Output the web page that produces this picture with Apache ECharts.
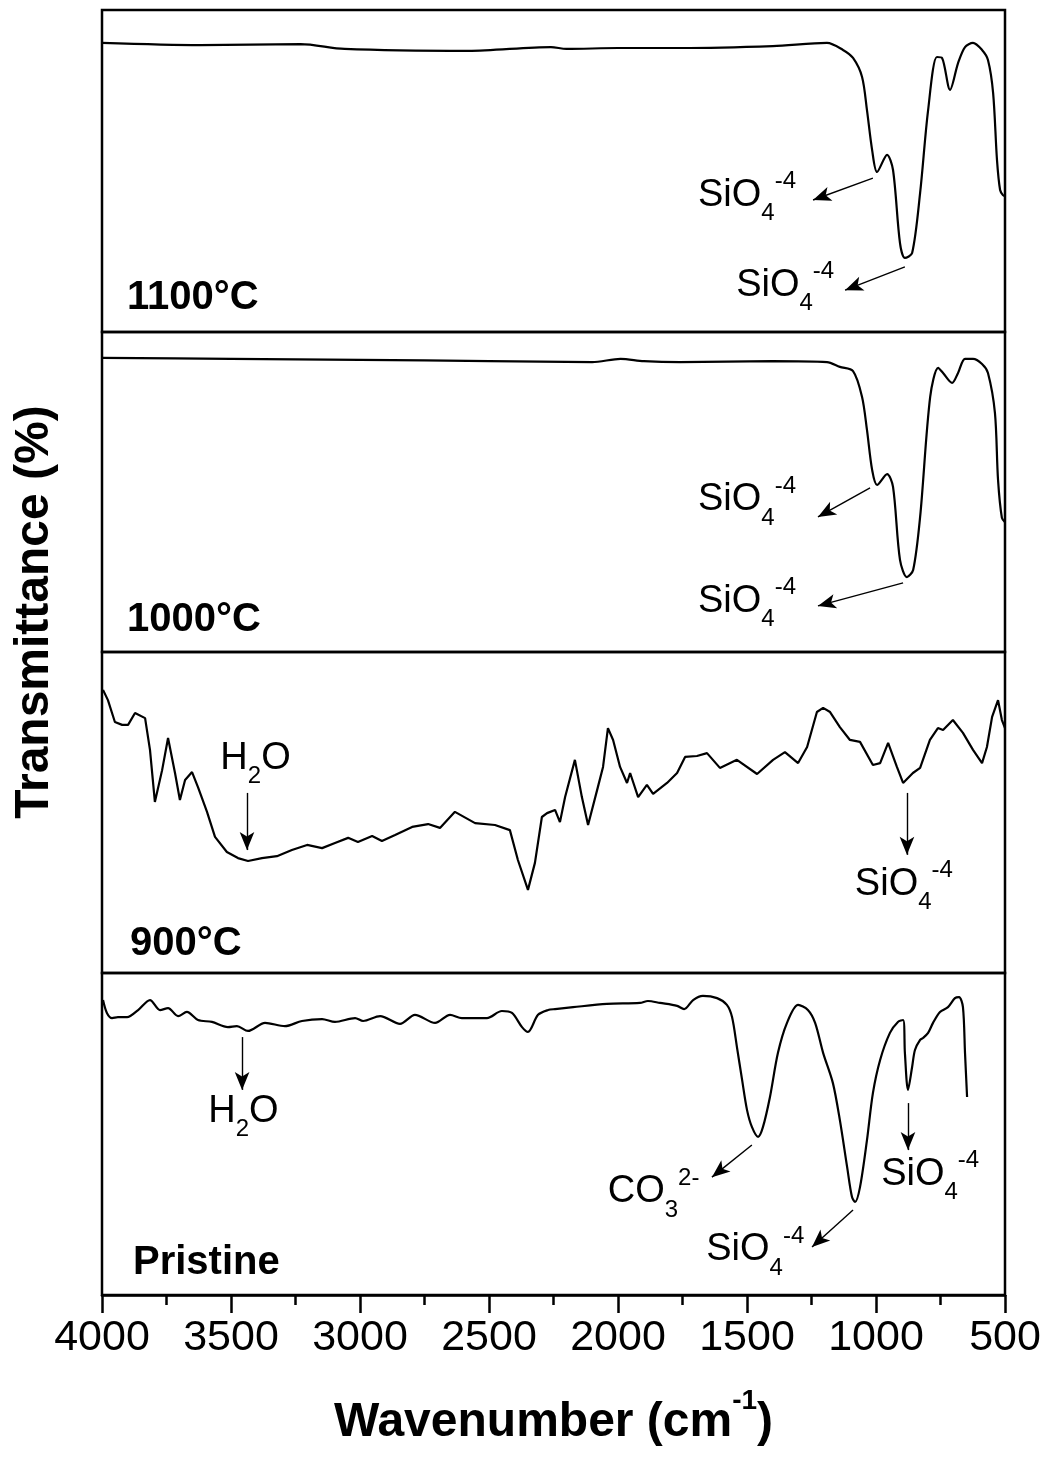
<!DOCTYPE html>
<html>
<head>
<meta charset="utf-8">
<script src="https://cdn.jsdelivr.net/npm/echarts@6/dist/echarts.min.js"></script>
<style>
  html, body { margin: 0; padding: 0; background: #fff; }
  #chart { width: 1050px; height: 1461px; }
</style>
</head>
<body>
<div id="chart"></div>
<script>
// wavenumber (cm-1) and transmittance (arb. %) for each sample
const wn1100 = [4000, 3620, 3230, 3060, 2580, 2260, 2200, 2000, 1760, 1400, 1190, 1128, 1089, 1054, 1035, 1015, 996, 957, 934, 907, 888, 860, 829, 798, 764, 744, 713, 682, 655, 624, 589, 566, 546, 531, 519, 508, 500];
const t1100 = [89.8, 89.1, 89.4, 87.9, 87.3, 88.5, 87.9, 88.2, 88.2, 88.8, 89.8, 87.6, 85.1, 79.2, 68.9, 56.5, 49.7, 55.0, 50.3, 27.6, 23.0, 24.5, 43.2, 68.9, 85.4, 85.1, 75.2, 83.5, 88.5, 89.8, 87.6, 84.5, 74.2, 53.4, 44.1, 42.5, 42.2];

const wn1000 = [4000, 3500, 3000, 2500, 2100, 1990, 1900, 1760, 1400, 1190, 1140, 1089, 1054, 1035, 1015, 996, 957, 934, 907, 880, 856, 829, 790, 759, 740, 705, 682, 655, 624, 589, 566, 539, 527, 512, 500];
const t1000 = [91.9, 91.6, 91.3, 90.9, 90.6, 91.6, 90.9, 90.6, 90.9, 90.6, 89.1, 87.8, 79.7, 69.4, 56.9, 52.2, 55.6, 51.6, 28.8, 23.4, 25.6, 42.2, 79.7, 88.8, 87.2, 84.1, 87.2, 91.6, 91.6, 90.0, 87.2, 74.7, 53.8, 41.9, 40.6];

const wn900 = [3996, 3977, 3950, 3922, 3899, 3872, 3833, 3814, 3795, 3767, 3744, 3717, 3698, 3678, 3651, 3628, 3593, 3562, 3516, 3473, 3434, 3380, 3322, 3264, 3205, 3147, 3097, 3046, 3008, 2953, 2915, 2864, 2798, 2736, 2690, 2632, 2554, 2477, 2419, 2388, 2349, 2322, 2295, 2275, 2244, 2225, 2205, 2167, 2140, 2116, 2078, 2058, 2039, 2019, 1992, 1965, 1953, 1922, 1888, 1864, 1810, 1771, 1740, 1694, 1655, 1605, 1539, 1461, 1399, 1353, 1302, 1267, 1229, 1205, 1178, 1140, 1101, 1062, 1012, 984, 953, 919, 895, 857, 829, 791, 760, 740, 702, 663, 624, 589, 570, 550, 527, 512, 500];
const t900 = [88.2, 85.0, 78.2, 77.3, 77.3, 81.0, 79.4, 69.5, 53.3, 63.2, 73.2, 62.3, 53.9, 60.1, 62.6, 57.9, 50.2, 42.4, 37.7, 35.8, 34.9, 35.8, 36.4, 38.3, 39.9, 38.9, 40.5, 42.1, 40.8, 42.7, 41.1, 43.0, 45.5, 46.4, 45.2, 50.2, 46.7, 46.1, 44.5, 35.2, 25.9, 34.3, 48.6, 49.8, 50.8, 47.0, 54.8, 66.4, 54.8, 46.1, 57.9, 64.2, 76.3, 72.6, 64.2, 59.2, 62.3, 54.8, 58.6, 55.8, 59.2, 62.3, 67.3, 67.6, 68.5, 63.9, 66.4, 62.0, 66.4, 68.8, 65.4, 70.4, 81.3, 82.6, 81.3, 76.6, 72.6, 72.0, 64.8, 65.4, 71.7, 64.2, 59.2, 62.3, 63.9, 72.6, 76.3, 75.7, 78.8, 74.8, 69.5, 65.4, 70.4, 79.8, 85.0, 78.8, 76.3];

const wnPristine = [3996, 3981, 3961, 3938, 3903, 3860, 3814, 3775, 3744, 3705, 3671, 3628, 3574, 3512, 3477, 3434, 3368, 3291, 3225, 3147, 3097, 3019, 2988, 2922, 2845, 2787, 2709, 2651, 2605, 2508, 2450, 2411, 2372, 2349, 2310, 2271, 2244, 2174, 2043, 1915, 1884, 1837, 1771, 1744, 1709, 1671, 1616, 1578, 1558, 1539, 1519, 1500, 1481, 1457, 1438, 1411, 1380, 1345, 1302, 1264, 1236, 1205, 1167, 1140, 1112, 1093, 1081, 1062, 1035, 1012, 984, 946, 915, 895, 888, 876, 860, 849, 829, 818, 798, 779, 752, 721, 694, 678, 663, 655, 647];
const tPristine = [91.6, 87.6, 86.0, 86.3, 86.3, 88.5, 91.6, 88.5, 89.1, 86.6, 87.9, 85.4, 84.8, 83.2, 83.5, 82.0, 84.5, 83.5, 85.1, 85.7, 84.8, 86.0, 85.1, 86.6, 84.2, 87.0, 84.5, 87.0, 86.0, 86.0, 88.2, 87.6, 83.2, 81.7, 87.0, 88.5, 88.8, 89.4, 90.4, 90.7, 91.3, 90.7, 89.8, 88.8, 91.6, 92.9, 92.2, 90.1, 86.3, 77.0, 66.8, 57.5, 52.2, 49.1, 52.2, 61.5, 75.2, 84.5, 90.1, 88.5, 84.5, 75.2, 65.8, 54.3, 39.8, 30.4, 28.9, 33.5, 48.1, 62.7, 73.0, 81.4, 84.8, 85.4, 75.2, 63.7, 70.8, 76.1, 79.2, 79.8, 81.4, 84.5, 87.9, 89.4, 92.2, 92.5, 89.4, 75.2, 61.5];

const xTicks = [4000, 3500, 3000, 2500, 2000, 1500, 1000, 500];
const panelNames = ['1100°C', '1000°C', '900°C', 'Pristine'];

// band assignments: arrows [fromWn, fromT, toWn, toT], notes [wn, t, text]
const SIO = 'SiO{sub|4}{sup|-4}';
const arrows1100 = [[1012, 47.8, 1244, 41.0], [888, 20.2, 1120, 13.0]];
const notes1100 = [[1500, 42.5, SIO], [1352, 14.5, SIO]];
const arrows1000 = [[1023, 51.3, 1225, 42.2], [895, 21.6, 1225, 14.4]];
const notes1000 = [[1500, 47.5, SIO], [1500, 15.8, SIO]];
const arrows900 = [[3438, 56.1, 3438, 38.3], [880, 56.1, 880, 36.8]];
const notes900 = [[3405, 66.8, 'H{sub|2}O'], [892, 27.5, SIO]];
const arrowsPristine = [[3457, 80.1, 3457, 63.7], [1481, 46.6, 1636, 36.6], [1089, 26.4, 1248, 14.9], [876, 59.6, 876, 45.0]];
const notesPristine = [[3452, 57.0, 'H{sub|2}O'], [1862, 32.0, 'CO{sub|3}{sup|2-}'], [1468, 14.0, SIO], [790, 37.4, SIO]];

const FONT = '"Liberation Sans", Arial, Helvetica, sans-serif';
const panelTop = [10, 332, 652, 973];
const panelHeight = [322, 320, 321, 322];

const panels = [
  { wn: wn1100, t: t1100, arrows: arrows1100, notes: notes1100, smooth: 0.3 },
  { wn: wn1000, t: t1000, arrows: arrows1000, notes: notes1000, smooth: 0.3 },
  { wn: wn900, t: t900, arrows: arrows900, notes: notes900, smooth: false },
  { wn: wnPristine, t: tPristine, arrows: arrowsPristine, notes: notesPristine, smooth: 0.3 }
];

const chart = echarts.init(document.getElementById('chart'), null, { renderer: 'canvas' });

const richSubSup = {
  sub: { fontSize: 24, fontFamily: FONT, color: '#000', padding: [36, 0, 0, 0] },
  sup: { fontSize: 24, fontFamily: FONT, color: '#000', padding: [0, 0, 28, 0] }
};

const grids = panels.map((p, i) => ({
  left: 102,
  right: 45,
  top: panelTop[i],
  height: panelHeight[i],
  show: true,
  borderColor: '#000',
  borderWidth: 2.5,
  backgroundColor: 'transparent'
}));

const xAxes = panels.map((p, i) => {
  const last = i === panels.length - 1;
  return {
    gridIndex: i,
    type: 'value',
    min: 500,
    max: 4000,
    interval: 500,
    inverse: true,
    splitLine: { show: false },
    axisLine: { show: last, lineStyle: { color: '#000', width: 2.5 } },
    axisTick: { show: last, length: 18, lineStyle: { color: '#000', width: 2.5 } },
    minorTick: { show: last, splitNumber: 2, length: 10, lineStyle: { color: '#000', width: 2.5 } },
    axisLabel: {
      show: last,
      color: '#000',
      fontSize: 43,
      fontFamily: FONT,
      margin: 22,
      showMinLabel: true,
      showMaxLabel: true,
      formatter: v => xTicks.indexOf(v) >= 0 ? String(v) : ''
    },
    name: last ? 'Wavenumber (cm{sup|-1})' : '',
    nameLocation: 'middle',
    nameGap: 92,
    nameTextStyle: {
      color: '#000',
      fontSize: 48,
      fontWeight: 'bold',
      fontFamily: FONT,
      rich: {
        sup: { fontSize: 28, fontWeight: 'bold', fontFamily: FONT, color: '#000', padding: [0, 0, 44, 0] }
      }
    }
  };
});

const yAxes = panels.map((p, i) => ({
  gridIndex: i,
  type: 'value',
  min: 0,
  max: 100,
  show: false
}));

const series = panels.map((p, i) => ({
  type: 'line',
  xAxisIndex: i,
  yAxisIndex: i,
  data: p.wn.map((w, k) => [w, p.t[k]]),
  smooth: p.smooth,
  symbol: 'none',
  lineStyle: { color: '#000', width: 2.2 },
  silent: true,
  markLine: {
    silent: true,
    animation: false,
    symbol: ['none', 'arrow'],
    label: { show: false },
    lineStyle: { color: '#000', width: 1.4, type: 'solid' },
    emphasis: { disabled: true },
    data: p.arrows.map(a => [
      { coord: [a[0], a[1]], symbol: 'none' },
      { coord: [a[2], a[3]], symbol: 'arrow', symbolSize: [11, 18] }
    ])
  },
  markPoint: {
    silent: true,
    animation: false,
    symbol: 'circle',
    symbolSize: 1,
    itemStyle: { color: 'rgba(0,0,0,0)' },
    label: {
      show: true,
      position: 'inside',
      color: '#000',
      fontSize: 38,
      fontFamily: FONT,
      rich: richSubSup
    },
    data: p.notes.map(n => ({ coord: [n[0], n[1]], label: { formatter: n[2] } }))
  }
}));

const labelY = [298, 620, 944, 1263];
const labelX = [127, 127, 130, 133];
const graphics = panelNames.map((name, i) => ({
  type: 'text',
  x: labelX[i],
  y: labelY[i],
  silent: true,
  style: {
    text: name,
    fill: '#000',
    fontSize: 40,
    fontWeight: 'bold',
    fontFamily: FONT,
    textAlign: 'left',
    textVerticalAlign: 'middle'
  }
}));
graphics.push({
  type: 'text',
  x: 35,
  y: 612,
  rotation: Math.PI / 2,
  silent: true,
  style: {
    text: 'Transmittance (%)',
    fill: '#000',
    fontSize: 48,
    fontWeight: 'bold',
    fontFamily: FONT,
    textAlign: 'center',
    textVerticalAlign: 'middle'
  }
});

const option = {
  animation: false,
  backgroundColor: '#fff',
  textStyle: { fontFamily: FONT },
  grid: grids,
  xAxis: xAxes,
  yAxis: yAxes,
  series: series,
  graphic: graphics
};

chart.setOption(option);
</script>
</body>
</html>
